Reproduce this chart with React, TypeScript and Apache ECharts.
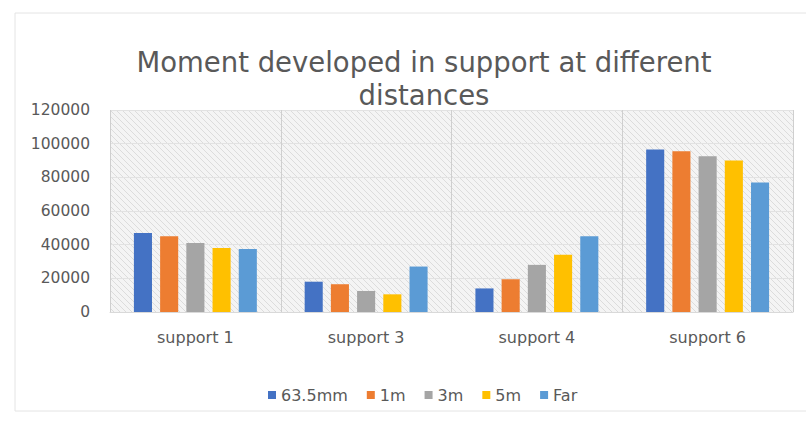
import React, { useEffect, useRef } from "react";
import * as echarts from "echarts";

const categories = ["support 1", "support 3", "support 4", "support 6"];
const seriesNames = ["63.5mm", "1m", "3m", "5m", "Far"];
const s635mm = [47000, 18000, 14000, 96500];
const s1m = [45000, 16500, 19500, 95500];
const s3m = [41000, 12500, 28000, 92500];
const s5m = [38000, 10500, 34000, 90000];
const sFar = [37500, 27000, 45000, 77000];
const yTicks = [0, 20000, 40000, 60000, 80000, 100000, 120000];
const colors = ["#4472C4", "#ED7D31", "#A5A5A5", "#FFC000", "#5B9BD5"];

function makeHatch(): HTMLCanvasElement {
  const c = document.createElement("canvas");
  c.width = 6;
  c.height = 6;
  const ctx = c.getContext("2d")!;
  ctx.fillStyle = "#f4f4f4";
  ctx.fillRect(0, 0, 6, 6);
  ctx.strokeStyle = "#dcdcdc";
  ctx.lineWidth = 1;
  ctx.beginPath();
  ctx.moveTo(-1, -1);
  ctx.lineTo(7, 7);
  ctx.moveTo(-4, 2);
  ctx.lineTo(4, 10);
  ctx.moveTo(2, -4);
  ctx.lineTo(10, 4);
  ctx.stroke();
  return c;
}

export default function App() {
  const ref = useRef<HTMLDivElement>(null);
  useEffect(() => {
    if (!ref.current) return;
    const chart = echarts.init(ref.current, undefined, { renderer: "svg" });
    const data = [s635mm, s1m, s3m, s5m, sFar];
    chart.setOption({
      animation: false,
      backgroundColor: "#ffffff",
      graphic: [
        {
          type: "rect",
          shape: { x: 15, y: 13, width: 800, height: 398 },
          style: { fill: "none", stroke: "#e4e4e4", lineWidth: 1 },
          silent: true,
          z: -10,
        },
      ],
      title: {
        text: "Moment developed in support at different\ndistances",
        left: 419,
        textAlign: "center",
        top: 40,
        textStyle: {
          fontFamily: "DejaVu Sans",
          fontSize: 27.5,
          fontWeight: "normal",
          color: "#595959",
          lineHeight: 33,
        },
      },
      legend: {
        data: seriesNames,
        top: 382,
        left: 263,
        itemWidth: 8,
        itemHeight: 8,
        itemGap: 19,
        icon: "rect",
        textStyle: { fontFamily: "DejaVu Sans", fontSize: 16, color: "#595959" },
      },
      grid: {
        left: 110,
        right: 13,
        top: 110,
        bottom: 109,
        show: true,
        borderWidth: 0,
        backgroundColor: { image: makeHatch(), repeat: "repeat" },
      },
      xAxis: {
        type: "category",
        data: categories,
        axisLine: { show: true, lineStyle: { color: "#d9d9d9" } },
        axisTick: { show: false },
        splitLine: { show: true, lineStyle: { color: "#cfcfcf", width: 1 } },
        axisLabel: { fontFamily: "DejaVu Sans", fontSize: 16, color: "#595959", margin: 17 },
      },
      yAxis: {
        type: "value",
        min: yTicks[0],
        max: yTicks[yTicks.length - 1],
        interval: 20000,
        axisLine: { show: false },
        axisTick: { show: false },
        splitLine: { show: true, lineStyle: { color: "#e2e2e2" } },
        axisLabel: {
          fontFamily: "DejaVu Sans",
          fontSize: 15.5,
          color: "#595959",
          margin: 20,
          formatter: (v: number) => String(v),
        },
      },
      series: seriesNames.map((name, i) => ({
        name,
        type: "bar",
        data: data[i],
        barGap: "45%",
        barCategoryGap: "28%",
        itemStyle: { color: colors[i] },
      })),
    });
    return () => chart.dispose();
  }, []);
  return (
    <div
      ref={ref}
      style={{ position: "absolute", left: 0, top: 0, width: 806, height: 421 }}
    />
  );
}
